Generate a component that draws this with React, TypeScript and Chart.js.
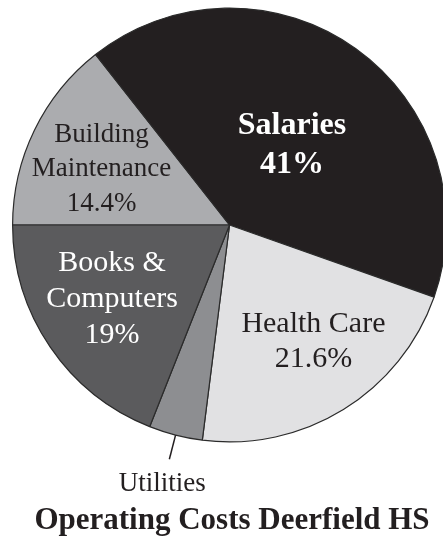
import React, { useEffect, useRef } from "react";
import { Chart, registerables } from "chart.js";

Chart.register(...registerables);

// Slices in clockwise order, starting from the 9 o'clock position
const categories: string[][] = [
  ["Building", "Maintenance"],
  ["Salaries"],
  ["Health Care"],
  ["Utilities"],
  ["Books &", "Computers"],
];
const shares: number[] = [14.4, 41, 21.6, 4, 19];
const showPercent: boolean[] = [true, true, true, false, true];
const chartTitle = "Operating Costs Deerfield HS";

const sliceColors = ["#abacaf", "#231f20", "#e1e1e3", "#8d8e91", "#5b5b5d"];
const textColors = ["#231f20", "#ffffff", "#231f20", "#231f20", "#ffffff"];

const SERIF = '"Liberation Serif", "Times New Roman", serif';

// Placement of each slice label: fraction of the radius, angular nudge (deg),
// font size, weight and line pitch. Callout labels sit outside the pie.
const labelStyle = [
  { callout: false, r: 0.647, nudge: -1.7, size: 27, bold: false, gap: 34.5 },
  { callout: false, r: 0.477, nudge: 1.5, size: 32, bold: true, gap: 39 },
  { callout: false, r: 0.654, nudge: -4.6, size: 30, bold: false, gap: 35 },
  { callout: true, r: 0, nudge: 0, size: 27, bold: false, gap: 0 },
  { callout: false, r: 0.635, nudge: 2.7, size: 30, bold: false, gap: 36 },
];

const CAP = 0.331; // half of the serif cap height, in em

function drawLines(
  ctx: CanvasRenderingContext2D,
  lines: string[],
  cx: number,
  cy: number,
  size: number,
  bold: boolean,
  gap: number,
  color: string
) {
  ctx.font = `${bold ? "bold " : ""}${size}px ${SERIF}`;
  ctx.fillStyle = color;
  ctx.textAlign = "center";
  ctx.textBaseline = "alphabetic";
  const first = cy - ((lines.length - 1) * gap) / 2;
  lines.forEach((line, k) => {
    ctx.fillText(line, cx, first + k * gap + size * CAP);
  });
}

const sliceLabels = {
  id: "sliceLabels",
  afterDatasetsDraw(chart: Chart) {
    const ctx = chart.ctx;
    const meta = chart.getDatasetMeta(0);
    ctx.save();
    meta.data.forEach((el: any, i: number) => {
      const { x, y, startAngle, endAngle, outerRadius } = el.getProps(
        ["x", "y", "startAngle", "endAngle", "outerRadius"],
        true
      );
      const mid = (startAngle + endAngle) / 2;
      const st = labelStyle[i];
      const lines = [...categories[i]];
      if (showPercent[i]) lines.push(`${shares[i]}%`);
      if (st.callout) {
        const x0 = x + outerRadius * Math.cos(mid);
        const y0 = y + outerRadius * Math.sin(mid);
        const x1 = x + (outerRadius + 25) * Math.cos(mid);
        const y1 = y + (outerRadius + 25) * Math.sin(mid);
        ctx.strokeStyle = "#231f20";
        ctx.lineWidth = 1.5;
        ctx.beginPath();
        ctx.moveTo(x0, y0);
        ctx.lineTo(x1, y1);
        ctx.stroke();
        drawLines(ctx, lines, x1 - 7, y1 + 23, st.size, st.bold, st.gap, textColors[i]);
      } else {
        const a = mid + (st.nudge * Math.PI) / 180;
        const d = outerRadius * st.r;
        drawLines(
          ctx,
          lines,
          x + d * Math.cos(a),
          y + d * Math.sin(a),
          st.size,
          st.bold,
          st.gap,
          textColors[i]
        );
      }
    });
    // chart caption under the pie
    const area = chart.chartArea;
    drawLines(ctx, [chartTitle], (area.left + area.right) / 2 + 2.5, area.bottom + 76, 31, true, 0, "#231f20");
    ctx.restore();
  },
};

export default function App() {
  const canvasRef = useRef<HTMLCanvasElement | null>(null);

  useEffect(() => {
    if (!canvasRef.current) return;
    const chart = new Chart(canvasRef.current, {
      type: "pie",
      data: {
        labels: categories.map((c) => c.join(" ")),
        datasets: [
          {
            data: shares,
            backgroundColor: sliceColors,
            borderColor: "#2b2b2b",
            borderWidth: 1.2,
          },
        ],
      },
      options: {
        responsive: false,
        animation: false,
        rotation: 270,
        layout: { padding: { left: 12, right: 13, top: 7, bottom: 97 } },
        plugins: {
          legend: { display: false },
          tooltip: { enabled: false },
          title: { display: false },
        },
      },
      plugins: [sliceLabels],
    });
    return () => chart.destroy();
  }, []);

  return (
    <div
      style={{
        position: "fixed",
        left: 0,
        top: 0,
        width: 443,
        height: 540,
        overflow: "hidden",
        background: "#ffffff",
      }}
    >
      <canvas ref={canvasRef} width={460} height={540} style={{ display: "block" }} />
    </div>
  );
}
